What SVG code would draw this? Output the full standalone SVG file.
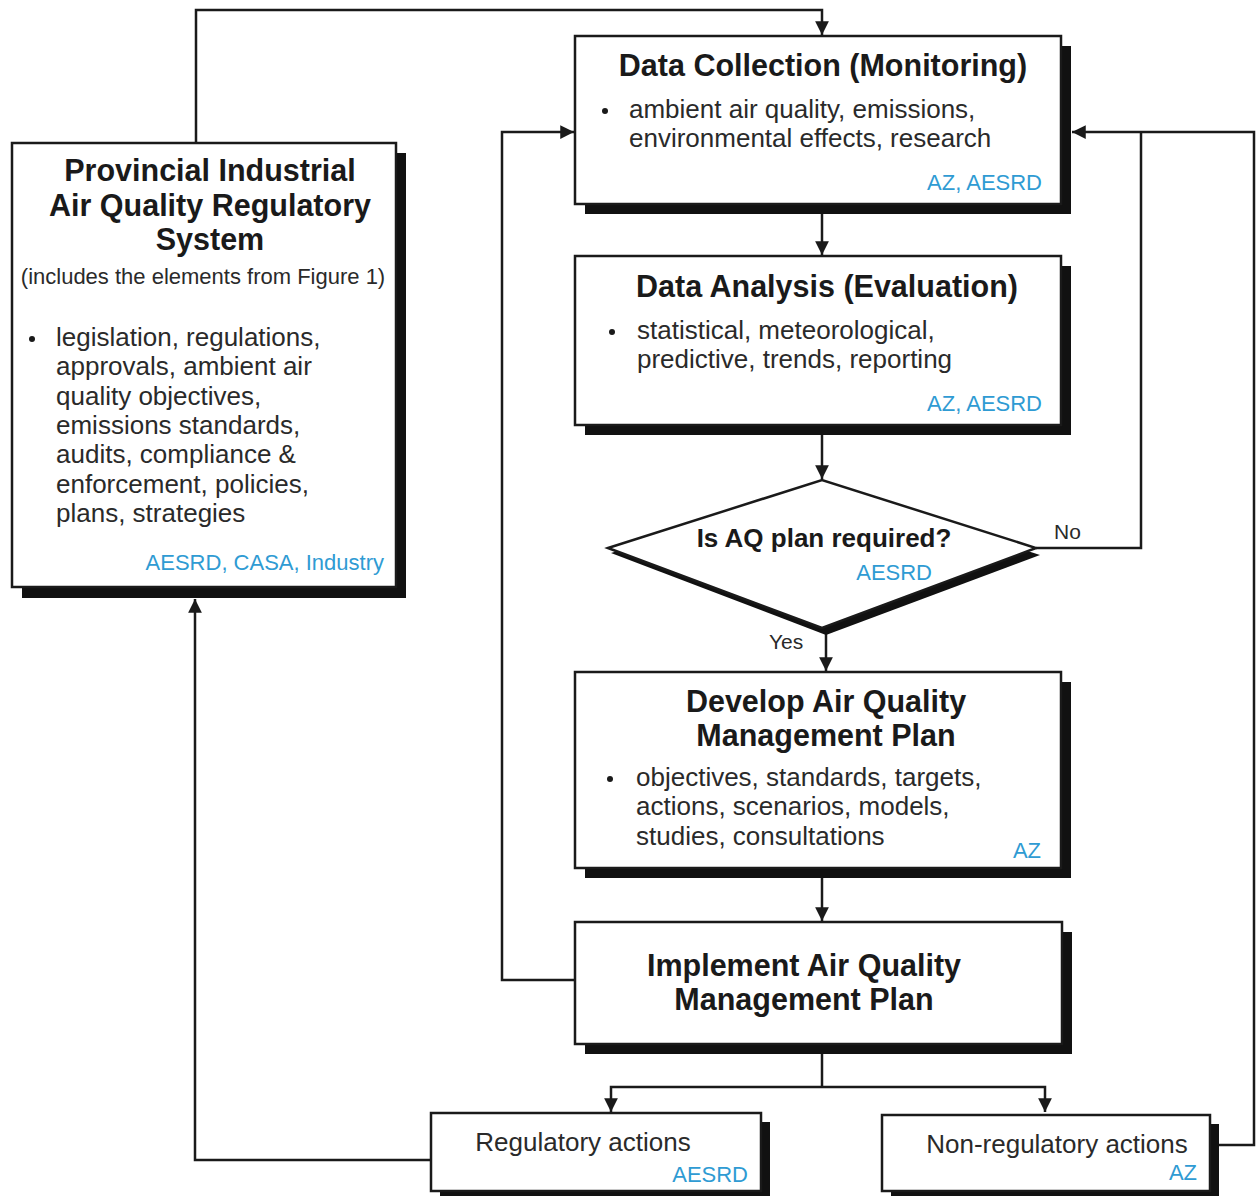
<svg xmlns="http://www.w3.org/2000/svg" width="1256" height="1196" viewBox="0 0 1256 1196">
<defs>
<style>
.box{fill:#fff;stroke:#1a1a1a;stroke-width:2.5}
.sh{fill:#111}
.t{font-family:"Liberation Sans",Arial,sans-serif;font-weight:bold;font-size:30.5px;fill:#1a1a1a;text-anchor:middle}
.b{font-family:"Liberation Sans",Arial,sans-serif;font-size:26px;fill:#2a2a2a}
.s{font-family:"Liberation Sans",Arial,sans-serif;font-size:21px;fill:#2a2a2a}
.blue{font-family:"Liberation Sans",Arial,sans-serif;font-size:22px;fill:#2f9bd3;text-anchor:end}
.dot{fill:#1a1a1a}
.c{fill:none;stroke:#1a1a1a;stroke-width:2.5}
</style>
<marker id="ah" viewBox="0 0 10 10" refX="10" refY="5" markerWidth="5.5" markerHeight="5.5" markerUnits="strokeWidth" orient="auto">
<path d="M0,0 L10,5 L0,10 z" fill="#1a1a1a"/>
</marker>
</defs>
<rect width="1256" height="1196" fill="#fff"/>

<g id="connectors">
<path class="c" d="M196,143 V10 H822 V35" marker-end="url(#ah)"/>
<path class="c" d="M822,214 V255" marker-end="url(#ah)"/>
<path class="c" d="M822,435 V479" marker-end="url(#ah)"/>
<path class="c" d="M1036,548 H1141 V132"/>
<path class="c" d="M1210,1145 H1254 V132 H1072" marker-end="url(#ah)"/>
<path class="c" d="M826,628 V671" marker-end="url(#ah)"/>
<path class="c" d="M822,878 V921" marker-end="url(#ah)"/>
<path class="c" d="M575,980 H502 V132 H574" marker-end="url(#ah)"/>
<path class="c" d="M822,1054 V1087"/>
<path class="c" d="M822,1087 H611 V1112" marker-end="url(#ah)"/>
<path class="c" d="M822,1087 H1045 V1112" marker-end="url(#ah)"/>
<path class="c" d="M431,1160 H195 V599" marker-end="url(#ah)"/>
<text class="s" x="1054" y="539">No</text>
<text class="s" x="769" y="649">Yes</text>
</g>

<g id="provincial">
<rect class="sh" x="22" y="153" width="384" height="445"/>
<rect class="box" x="12" y="143" width="384" height="444"/>
<text class="t" x="210" y="181">Provincial Industrial</text>
<text class="t" x="210" y="216">Air Quality Regulatory</text>
<text class="t" x="210" y="250">System</text>
<text class="s" x="203" y="284" text-anchor="middle" style="font-size:22px">(includes the elements from Figure 1)</text>
<circle class="dot" cx="32" cy="339" r="3"/>
<text class="b" x="56" y="346">legislation, regulations,</text>
<text class="b" x="56" y="375">approvals, ambient air</text>
<text class="b" x="56" y="405">quality objectives,</text>
<text class="b" x="56" y="434">emissions standards,</text>
<text class="b" x="56" y="463">audits, compliance &amp;</text>
<text class="b" x="56" y="493">enforcement, policies,</text>
<text class="b" x="56" y="522">plans, strategies</text>
<text class="blue" x="384" y="570">AESRD, CASA, Industry</text>
</g>

<g id="data-collection">
<rect class="sh" x="585" y="46" width="486" height="168"/>
<rect class="box" x="575" y="36" width="486" height="168"/>
<text class="t" x="823" y="76">Data Collection (Monitoring)</text>
<circle class="dot" cx="605" cy="111" r="3"/>
<text class="b" x="629" y="118">ambient air quality, emissions,</text>
<text class="b" x="629" y="147">environmental effects, research</text>
<text class="blue" x="1042" y="190">AZ, AESRD</text>
</g>

<g id="data-analysis">
<rect class="sh" x="585" y="266" width="486" height="169"/>
<rect class="box" x="575" y="256" width="486" height="169"/>
<text class="t" x="827" y="297">Data Analysis (Evaluation)</text>
<circle class="dot" cx="612" cy="332" r="3"/>
<text class="b" x="637" y="339">statistical, meteorological,</text>
<text class="b" x="637" y="368">predictive, trends, reporting</text>
<text class="blue" x="1042" y="411">AZ, AESRD</text>
</g>

<g id="decision">
<polygon class="sh" points="611,553 826,487 1040,555 826,635"/>
<polygon class="box" points="608,548 822,480 1036,548 822,628"/>
<text class="t" x="824" y="547" style="font-size:26px">Is AQ plan required?</text>
<text class="blue" x="932" y="580">AESRD</text>
</g>

<g id="develop">
<rect class="sh" x="585" y="682" width="486" height="196"/>
<rect class="box" x="575" y="672" width="486" height="196"/>
<text class="t" x="826" y="712">Develop Air Quality</text>
<text class="t" x="826" y="746">Management Plan</text>
<circle class="dot" cx="610" cy="779" r="3"/>
<text class="b" x="636" y="786">objectives, standards, targets,</text>
<text class="b" x="636" y="815">actions, scenarios, models,</text>
<text class="b" x="636" y="845">studies, consultations</text>
<text class="blue" x="1041" y="858">AZ</text>
</g>

<g id="implement">
<rect class="sh" x="585" y="932" width="487" height="122"/>
<rect class="box" x="575" y="922" width="487" height="122"/>
<text class="t" x="804" y="976">Implement Air Quality</text>
<text class="t" x="804" y="1010">Management Plan</text>
</g>

<g id="regulatory">
<rect class="sh" x="440" y="1122" width="330" height="80"/>
<rect class="box" x="431" y="1113" width="330" height="78"/>
<text class="b" x="583" y="1151" text-anchor="middle">Regulatory actions</text>
<text class="blue" x="748" y="1182">AESRD</text>
</g>

<g id="non-regulatory">
<rect class="sh" x="891" y="1124" width="328" height="80"/>
<rect class="box" x="882" y="1115" width="328" height="76"/>
<text class="b" x="1057" y="1153" text-anchor="middle">Non-regulatory actions</text>
<text class="blue" x="1197" y="1180">AZ</text>
</g>
</svg>
